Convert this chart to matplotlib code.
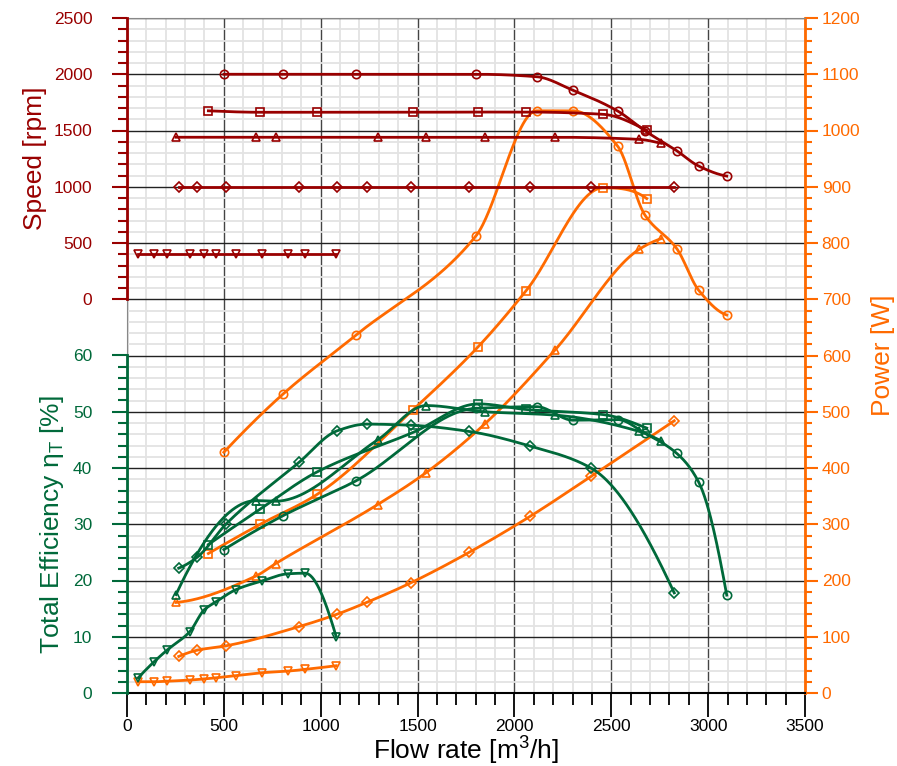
import numpy as np
import matplotlib
matplotlib.use("Agg")
import matplotlib.pyplot as plt
from matplotlib.ticker import MultipleLocator

plt.rcParams['font.family'] = ['Liberation Sans', 'DejaVu Sans']

# ---------------- data ----------------
# circle series (2000 rpm)
q_c = [500, 804, 1181, 1800, 2115, 2302, 2533, 2673, 2838, 2951, 3096]
n_c = [2000, 2000, 2000, 2000, 1978, 1858, 1673, 1498, 1320, 1184, 1095]
p_c = [428, 531, 636, 812, 1035, 1035, 972, 850, 790, 716, 672]
e_c = [25.5, 31.5, 37.7, 50.6, 50.9, 48.5, 48.6, 46.2, 42.6, 37.5, 17.4]

# square series
q_s = [420, 688, 981, 1475, 1814, 2060, 2457, 2683]
n_s = [1675, 1662, 1662, 1662, 1664, 1664, 1644, 1502]
p_s = [248, 300, 353, 503, 616, 715, 898, 879]
e_s = [26.4, 32.7, 39.3, 46.3, 51.4, 50.4, 49.5, 47.1]

# triangle series
q_t = [253, 666, 767, 1294, 1545, 1846, 2210, 2645, 2759]
n_t = [1440, 1440, 1440, 1440, 1440, 1440, 1440, 1421, 1386]
p_t = [161, 208, 230, 335, 392, 478, 610, 789, 808]
e_t = [17.5, 34.2, 34.1, 45.0, 51.1, 50.0, 49.4, 46.5, 44.8]

# diamond series
q_d = [267, 361, 513, 888, 1084, 1237, 1466, 1766, 2081, 2395, 2825]
n_d = [995] * 11
p_d = [65, 76, 84, 118, 140, 161, 196, 250, 314, 385, 484]
e_d = [22.2, 24.1, 30.1, 41.0, 46.6, 47.8, 47.6, 46.5, 43.9, 40.0, 17.8]

# down-triangle series
q_v = [58, 138, 206, 324, 399, 459, 564, 695, 833, 919, 1080]
n_v = [400] * 11
p_v = [20, 20, 21, 23, 25, 27, 31, 36, 39, 42, 48.5]
e_v = [2.7, 5.5, 7.6, 10.9, 14.8, 16.2, 18.4, 19.9, 21.2, 21.3, 10.0]

series = [
    (q_c, n_c, p_c, e_c, 'o'),
    (q_s, n_s, p_s, e_s, 's'),
    (q_t, n_t, p_t, e_t, '^'),
    (q_d, n_d, p_d, e_d, 'D'),
    (q_v, n_v, p_v, e_v, 'v'),
]

RED = '#990000'
GREEN = '#00693A'
ORANGE = '#FF6A00'


def _end_slope(h0, h1, d0, d1):
    t = ((2 * h0 + h1) * d0 - h0 * d1) / (h0 + h1)
    if np.sign(t) != np.sign(d0):
        t = 0.0
    elif np.sign(d0) != np.sign(d1) and abs(t) > 3 * abs(d0):
        t = 3 * d0
    return t


def pchip(x, y, n=500):
    """Monotone piecewise cubic Hermite curve through the points."""
    x = np.asarray(x, float)
    y = np.asarray(y, float)
    N = len(x)
    h = np.diff(x)
    d = np.diff(y) / h
    t = np.zeros(N)
    if N == 2:
        t[:] = d[0]
    else:
        for k in range(1, N - 1):
            if d[k - 1] * d[k] <= 0:
                t[k] = 0.0
            else:
                w1 = 2 * h[k] + h[k - 1]
                w2 = h[k] + 2 * h[k - 1]
                t[k] = (w1 + w2) / (w1 / d[k - 1] + w2 / d[k])
        t[0] = _end_slope(h[0], h[1], d[0], d[1])
        t[-1] = _end_slope(h[-1], h[-2], d[-1], d[-2])
    xs = np.linspace(x[0], x[-1], n)
    idx = np.clip(np.searchsorted(x, xs) - 1, 0, N - 2)
    hi = h[idx]
    s = (xs - x[idx]) / hi
    h00 = 2 * s ** 3 - 3 * s ** 2 + 1
    h10 = s ** 3 - 2 * s ** 2 + s
    h01 = -2 * s ** 3 + 3 * s ** 2
    h11 = s ** 3 - s ** 2
    ys = h00 * y[idx] + h10 * hi * t[idx] + h01 * y[idx + 1] + h11 * hi * t[idx + 1]
    return xs, ys


W, H = 897, 766
fig = plt.figure(figsize=(W / 100, H / 100), dpi=100)
L, R, T, B = 127, 805, 18, 693
ax = fig.add_axes([L / W, (H - B) / H, (R - L) / W, (B - T) / H])

ax.set_xlim(0, 3500)
ax.set_ylim(0, 1200)
ax.xaxis.set_major_locator(MultipleLocator(500))
ax.xaxis.set_minor_locator(MultipleLocator(100))
ax.yaxis.set_major_locator(MultipleLocator(100))
ax.yaxis.set_minor_locator(MultipleLocator(20))
ax.grid(which='minor', color='#e3e3e3', lw=1.3, zorder=0)
ax.grid(which='major', axis='x', color='#444444', lw=1.0, zorder=0.5)
ax.grid(which='major', axis='y', color='#222222', lw=1.0, zorder=0.5)
ax.set_axisbelow(True)

ax.yaxis.tick_right()
ax.yaxis.set_label_position('right')
ax.tick_params(axis='y', which='major', colors=ORANGE, length=9, width=1.5,
               pad=3, labelsize=12.5, direction='out')
ax.tick_params(axis='y', which='minor', colors=ORANGE, length=5, width=1.5,
               direction='out')
ax.tick_params(axis='x', which='major', length=17, width=1.3, pad=2,
               labelsize=12.5, colors='black')
ax.tick_params(axis='x', which='minor', length=8.5, width=1.3)
ax.spines['right'].set_color(ORANGE)
ax.spines['right'].set_linewidth(2)
ax.spines['left'].set_color('#888888')
ax.spines['top'].set_color('#888888')
ax.spines['bottom'].set_linewidth(1.5)
ax.set_ylabel('Power [W]', color=ORANGE, fontsize=19, labelpad=8)
ax.set_xlabel('Flow rate [m$^\\mathregular{3}$/h]', fontsize=19, labelpad=-1)

# speed axis (upper part)
ax_n = ax.inset_axes([0, 700 / 1200, 1, 500 / 1200], sharex=ax)
# efficiency axis (lower part)
ax_e = ax.inset_axes([0, 0, 1, 600 / 1200], sharex=ax)

for a, col, lim, maj, mnr, lab in [
    (ax_n, RED, (0, 2500), 500, 100, 'Speed [rpm]'),
    (ax_e, GREEN, (0, 60), 10, 2, 'Total Efficiency η$_\\mathregular{T}$ [%]'),
]:
    a.set_ylim(*lim)
    a.patch.set_alpha(0)
    for s in ['top', 'right', 'bottom']:
        a.spines[s].set_visible(False)
    a.spines['left'].set_color(col)
    a.spines['left'].set_linewidth(2)
    a.yaxis.set_major_locator(MultipleLocator(maj))
    a.yaxis.set_minor_locator(MultipleLocator(mnr))
    a.tick_params(axis='y', which='major', colors=col, length=11, width=1.5,
                  pad=14, labelsize=12.5)
    a.tick_params(axis='y', which='minor', colors=col, length=6.5, width=1.5)
    a.tick_params(axis='x', which='both', bottom=False, labelbottom=False)
    a.set_ylabel(lab, color=col, fontsize=19, labelpad=5)

for q, n, p, e, m in series:
    ms = 5 if m == 'D' else 6
    for a, vals, col in [(ax_n, n, RED), (ax_e, e, GREEN), (ax, p, ORANGE)]:
        xs, ys = pchip(q, vals)
        a.plot(xs, ys, color=col, lw=2, zorder=3)
        a.plot(q, vals, ls='none', marker=m, color=col, markersize=ms,
               markerfacecolor='none', markeredgewidth=1.2, zorder=4)

fig.savefig('out.png', dpi=100)
